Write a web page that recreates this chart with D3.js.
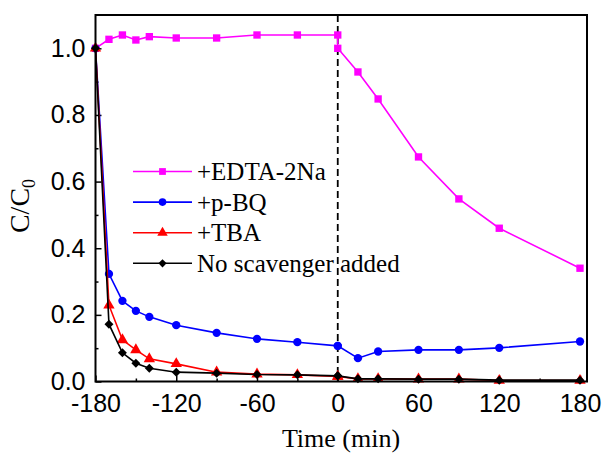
<!DOCTYPE html>
<html>
<head>
<meta charset="utf-8">
<script src="https://cdn.jsdelivr.net/npm/d3@7"></script>
<style>
  body { margin: 0; background: #fff; }
  svg { font-family: "Liberation Serif", "Times New Roman", serif; }
  .axis text { font-size: 25px; fill: #000; }
  .axis line { stroke: #000; stroke-width: 1.5; }
</style>
</head>
<body>
<svg id="chart" width="605" height="456"></svg>
<script>
// time points (min): dark adsorption phase, then irradiation phase
const darkTimes = [-180, -170, -160, -150, -140, -120, -90, -60, -30, 0];
const lightTimes = [0, 15, 30, 60, 90, 120, 180];

const edtaDark = [1.0, 1.027, 1.04, 1.025, 1.035, 1.031, 1.031, 1.04, 1.04, 1.04];
const edtaLight = [1.0, 0.929, 0.848, 0.674, 0.548, 0.46, 0.34];
const pbqDark = [1.0, 0.323, 0.242, 0.212, 0.194, 0.169, 0.146, 0.128, 0.118, 0.107];
const pbqLight = [0.107, 0.07, 0.09, 0.095, 0.095, 0.101, 0.12];
const tbaDark = [1.0, 0.229, 0.125, 0.095, 0.068, 0.053, 0.028, 0.022, 0.02, 0.015];
const tbaLight = [0.015, 0.008, 0.008, 0.007, 0.007, 0.003, 0.003];
const noneDark = [1.0, 0.172, 0.086, 0.055, 0.04, 0.028, 0.025, 0.021, 0.02, 0.017];
const noneLight = [0.017, 0.008, 0.008, 0.007, 0.007, 0.004, 0.004];

const seriesNames = ["+EDTA-2Na", "+p-BQ", "+TBA", "No scavenger added"];
const seriesColors = ["#ff00ff", "#0000ff", "#ff0000", "#000000"];
// diamond = square turned by 45 degrees
const seriesSymbols = [d3.symbolSquare, d3.symbolCircle, d3.symbolTriangle, d3.symbolSquare];
const seriesRotate = [0, 0, 0, 45];
const seriesDark = [edtaDark, pbqDark, tbaDark, noneDark];
const seriesLight = [edtaLight, pbqLight, tbaLight, noneLight];

const xTicks = [-180, -120, -60, 0, 60, 120, 180];
const xMinor = [-150, -90, -30, 30, 90, 150];
const yTicks = [0, 0.2, 0.4, 0.6, 0.8, 1.0];
const yMinor = [0.1, 0.3, 0.5, 0.7, 0.9];

const plotLeft = 95.5, plotRight = 587, plotTop = 15, plotBottom = 381.5;

const svg = d3.select("#chart");

const x = d3.scaleLinear().domain([-180, 185.2]).range([plotLeft, plotRight]);
const y = d3.scaleLinear().domain([0, 1.1]).range([plotBottom, plotTop]);

// minor ticks
let gx = svg.append('g').attr('class', "axis")
    .attr('transform', `translate(0,${plotBottom})`);
gx.call(d3.axisBottom(x).tickValues(xMinor).tickSize(-3).tickFormat(""));
gx.select(".domain").remove();
gx = svg.append('g').attr('class', "axis")
    .attr('transform', `translate(0,${plotBottom})`);
gx.call(d3.axisBottom(x).tickValues(xTicks).tickSize(-6).tickPadding(13)
        .tickFormat((d) => String(d)));
gx.select(".domain").remove();

let gy = svg.append('g').attr('class', "axis")
    .attr('transform', `translate(${plotLeft},0)`);
gy.call(d3.axisLeft(y).tickValues(yMinor).tickSize(-3).tickFormat(""));
gy.select(".domain").remove();
gy = svg.append('g').attr('class', "axis")
    .attr('transform', `translate(${plotLeft},0)`);
gy.call(d3.axisLeft(y).tickValues(yTicks).tickSize(-6).tickPadding(10)
        .tickFormat(d3.format(".1f")));
gy.select(".domain").remove();

// dashed line where the light was switched on
svg.append('line')
    .attr('x1', x(0)).attr('x2', x(0))
    .attr('y1', plotTop).attr('y2', plotBottom)
    .attr('stroke', "#000")
    .attr('stroke-width', 1.8)
    .attr('stroke-dasharray', "7,4");

const line = d3.line().x((d) => x(d.t)).y((d) => y(d.v));
const symbolSizes = [54, 54, 56, 40];

seriesNames.forEach((name, i) => {
    let points = darkTimes.map((t, k) => ({t: t, v: seriesDark[i][k]}))
        .concat(lightTimes.map((t, k) => ({t: t, v: seriesLight[i][k]})));
    let g = svg.append('g');
    g.append('path')
        .attr('d', line(points))
        .attr('fill', "none")
        .attr('stroke', seriesColors[i])
        .attr('stroke-width', 1.6);
    g.selectAll("path.pt").data(points).enter().append('path')
        .attr('class', "pt")
        .attr('d', d3.symbol().type(seriesSymbols[i]).size(symbolSizes[i]))
        .attr('transform',
              (p) => `translate(${x(p.t)},${y(p.v)}) rotate(${seriesRotate[i]})`)
        .attr('fill', seriesColors[i]);
});

// frame
svg.append('rect')
    .attr('x', plotLeft).attr('y', plotTop)
    .attr('width', plotRight - plotLeft).attr('height', plotBottom - plotTop)
    .attr('fill', "none")
    .attr('stroke', "#000")
    .attr('stroke-width', 2);

// legend
const legend = svg.append('g').attr('transform', "translate(133,171.5)");
seriesNames.forEach((name, i) => {
    let row = legend.append('g').attr('transform', `translate(0,${i * 30.6})`);
    row.append('line')
        .attr('x1', 0).attr('x2', 59)
        .attr('stroke', seriesColors[i])
        .attr('stroke-width', 1.6);
    row.append('path')
        .attr('d', d3.symbol().type(seriesSymbols[i]).size(symbolSizes[i] * 0.85))
        .attr('transform', `translate(29.5,0) rotate(${seriesRotate[i]})`)
        .attr('fill', seriesColors[i]);
    row.append('text')
        .attr('x', 64).attr('y', 8.5)
        .attr('font-size', 25)
        .text(name);
});

// axis titles
svg.append('text')
    .attr('x', 341).attr('y', 447)
    .attr('text-anchor', "middle")
    .attr('font-size', 26)
    .text("Time (min)");

const ylab = svg.append('text')
    .attr('transform', "translate(29,206) rotate(-90)")
    .attr('text-anchor', "middle")
    .attr('font-size', 28);
ylab.append('tspan').text("C/C");
ylab.append('tspan').attr('font-size', 18).attr('dy', 6).text("0");
</script>
</body>
</html>
